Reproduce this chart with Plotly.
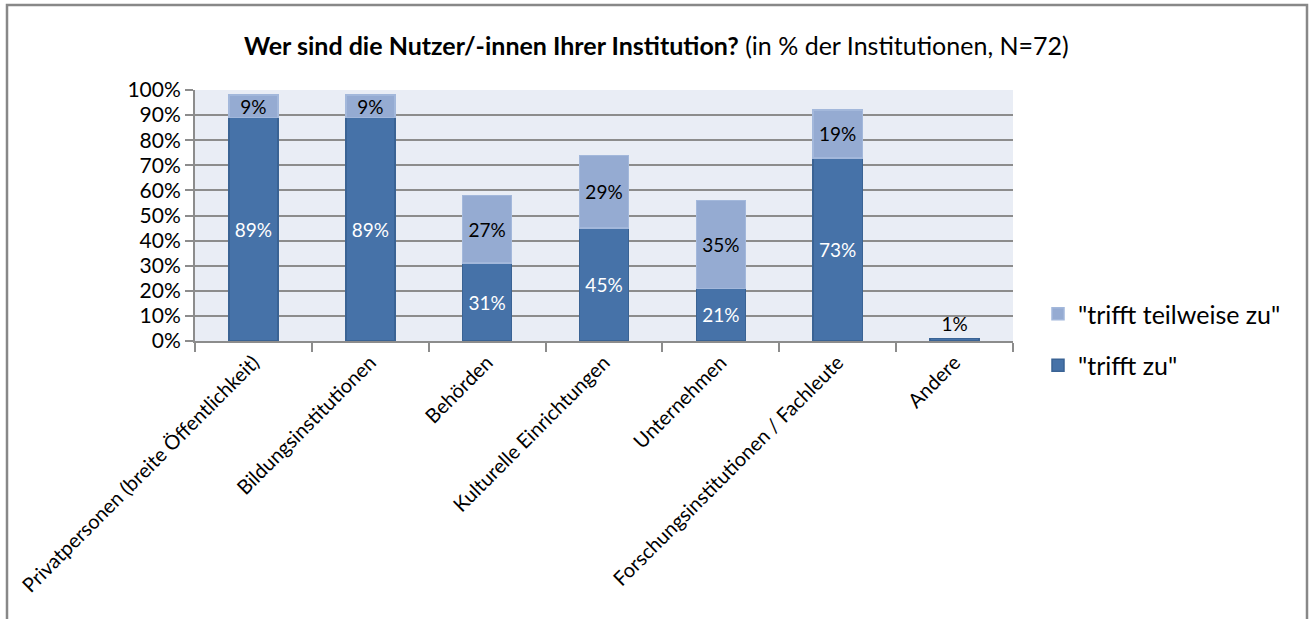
import plotly.graph_objects as go

categories = [
    "Privatpersonen (breite Öffentlichkeit)",
    "Bildungsinstitutionen",
    "Behörden",
    "Kulturelle Einrichtungen",
    "Unternehmen",
    "Forschungsinstitutionen / Fachleute",
    "Andere",
]
trifft_zu = [89, 89, 31, 45, 21, 73, 1]
trifft_teilweise = [9, 9, 27, 29, 35, 19, None]
y_ticks = list(range(0, 101, 10))
y_tick_labels = [f"{v}%" for v in y_ticks]

W, H = 1309, 619
L, R, T, B = 195, 1013, 90, 341

def px(x):
    return (x - L) / (R - L)

def py(y):
    return (B - y) / (B - T)

FONT = "Lato"
dark = "#4672A8"
light = "#95ABD2"

fig = go.Figure()
fig.add_trace(go.Bar(
    x=categories, y=trifft_zu, name='"trifft zu"',
    marker=dict(color=dark, line=dict(color="#3A6394", width=1.5)),
    text=[f"{v}%" for v in trifft_zu],
    textposition=["inside"] * 6 + ["outside"],
    insidetextanchor="middle",
    textangle=0,
    constraintext="none",
    insidetextfont=dict(color="white", size=19, family=FONT),
    outsidetextfont=dict(color="black", size=19, family=FONT),
    cliponaxis=False,
    legendgroup="b",
    legendrank=2,
    hoverinfo="skip",
))
fig.add_trace(go.Bar(
    x=categories, y=trifft_teilweise, name='"trifft teilweise zu"',
    marker=dict(color=light, line=dict(color="#A3B8DB", width=1.5)),
    text=[f"{v}%" if v else "" for v in trifft_teilweise],
    textposition="inside",
    insidetextanchor="middle",
    textangle=0,
    constraintext="none",
    insidetextfont=dict(color="black", size=19, family=FONT),
    cliponaxis=False,
    legendgroup="a",
    legendrank=1,
    hoverinfo="skip",
))

fig.update_layout(
    width=W, height=H,
    barmode="stack",
    bargap=0.58,
    paper_bgcolor="white",
    plot_bgcolor="#E9EDF5",
    margin=dict(l=L, r=W - R, t=T, b=H - B, autoexpand=False),
    font=dict(family=FONT, color="black"),
    showlegend=True,
    legend=dict(
        x=px(1038), y=py(291), xanchor="left", yanchor="top",
        font=dict(size=25, family=FONT),
        traceorder="grouped",
        tracegroupgap=16,
        bgcolor="rgba(0,0,0,0)",
    ),
    uniformtext=dict(mode=False),
)
fig.update_xaxes(
    type="category",
    tickangle=-45,
    tickfont=dict(size=20, family=FONT),
    ticks="outside", ticklen=9, tickcolor="#8C8C8C", tickwidth=1.5,
    tickson="boundaries",
    showline=True, linecolor="#8C8C8C", linewidth=2,
    showgrid=False,
)
fig.update_yaxes(
    range=[0, 100],
    tickvals=y_ticks, ticktext=y_tick_labels,
    tickfont=dict(size=21, family=FONT),
    ticks="outside", ticklen=8, tickcolor="#8C8C8C", tickwidth=1.5,
    showline=True, linecolor="#8C8C8C", linewidth=2,
    showgrid=True, gridcolor="#8C8C8C", gridwidth=2,
    zeroline=False,
)

# outer chart border
fig.add_shape(type="rect", xref="paper", yref="paper",
              x0=px(7), x1=px(1307), y0=py(640), y1=py(5),
              line=dict(color="#888888", width=2.5), layer="below")

fig.add_annotation(
    xref="paper", yref="paper", x=px(656), y=py(45),
    xanchor="center", yanchor="middle", showarrow=False,
    text="<b>Wer sind die Nutzer/-innen Ihrer Institution?</b> (in % der Institutionen, N=72)",
    font=dict(size=25, family=FONT, color="black"),
)

fig.write_html("out.html", config={"displayModeBar": False},
               post_script="document.body.style.margin='0px';")
